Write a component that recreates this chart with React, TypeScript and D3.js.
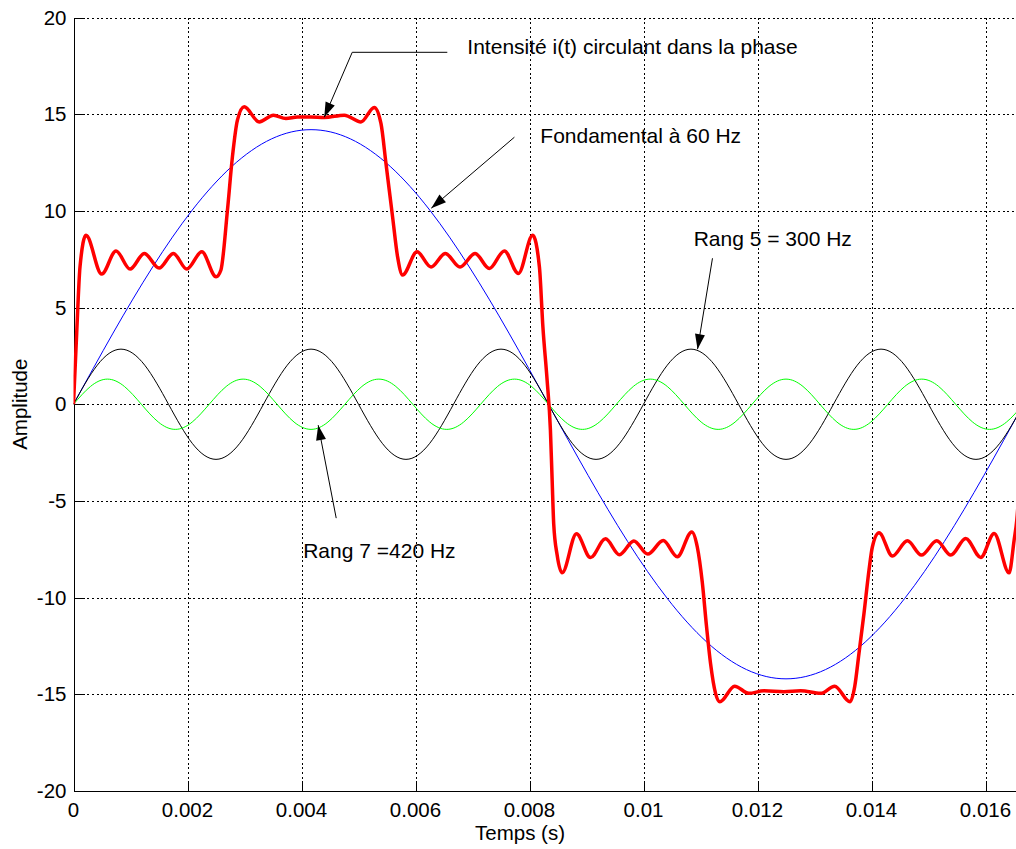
import React from 'react';
import * as d3 from 'd3';

// ---------- data (time in ms, amplitude) ----------
const xTicks = [0, 0.002, 0.004, 0.006, 0.008, 0.01, 0.012, 0.014, 0.016];
const xTickLabels = ['0', '0.002', '0.004', '0.006', '0.008', '0.01', '0.012', '0.014', '0.016'];
const yTicks = [-20, -15, -10, -5, 0, 5, 10, 15, 20];
const yTickLabels = ['-20', '-15', '-10', '-5', '0', '5', '10', '15', '20'];

const fundTime = [0, 0.694, 1.389, 2.083, 2.778, 3.472, 4.167, 4.861, 5.556, 6.25, 6.944, 7.639, 8.333,
  9.028, 9.722, 10.417, 11.111, 11.806, 12.5, 13.194, 13.889, 14.583, 15.278, 15.972, 16.667];
const fundAmp = [0, 3.68, 7.1, 10.04, 12.3, 13.72, 14.2, 13.72, 12.3, 10.04, 7.1, 3.68, 0,
  -3.68, -7.1, -10.04, -12.3, -13.72, -14.2, -13.72, -12.3, -10.04, -7.1, -3.68, 0];

const rang5Time = [0, 0.417, 0.833, 1.25, 1.667, 2.083, 2.5, 2.917, 3.333, 3.75, 4.167, 4.583, 5.0, 5.417,
  5.833, 6.25, 6.667, 7.083, 7.5, 7.917, 8.333, 8.75, 9.167, 9.583, 10.0, 10.417, 10.833, 11.25, 11.667,
  12.083, 12.5, 12.917, 13.333, 13.75, 14.167, 14.583, 15.0, 15.417, 15.833, 16.25, 16.667];
const rang5Amp = [0, 2.02, 2.85, 2.02, 0, -2.02, -2.85, -2.02, 0, 2.02, 2.85, 2.02, 0, -2.02, -2.85, -2.02,
  0, 2.02, 2.85, 2.02, 0, -2.02, -2.85, -2.02, 0, 2.02, 2.85, 2.02, 0, -2.02, -2.85, -2.02,
  0, 2.02, 2.85, 2.02, 0, -2.02, -2.85, -2.02, 0];

const rang7Time = [0, 0.298, 0.595, 0.893, 1.19, 1.488, 1.786, 2.083, 2.381, 2.679, 2.976, 3.274, 3.571,
  3.869, 4.167, 4.464, 4.762, 5.06, 5.357, 5.655, 5.952, 6.25, 6.548, 6.845, 7.143, 7.44, 7.738, 8.036,
  8.333, 8.631, 8.929, 9.226, 9.524, 9.821, 10.119, 10.417, 10.714, 11.012, 11.31, 11.607, 11.905, 12.202,
  12.5, 12.798, 13.095, 13.393, 13.69, 13.988, 14.286, 14.583, 14.881, 15.179, 15.476, 15.774, 16.071,
  16.369, 16.667];
const rang7Amp = [0, 0.92, 1.3, 0.92, 0, -0.92, -1.3, -0.92, 0, 0.92, 1.3, 0.92, 0, -0.92, -1.3, -0.92,
  0, 0.92, 1.3, 0.92, 0, -0.92, -1.3, -0.92, 0, 0.92, 1.3, 0.92, 0, -0.92, -1.3, -0.92,
  0, 0.92, 1.3, 0.92, 0, -0.92, -1.3, -0.92, 0, 0.92, 1.3, 0.92, 0, -0.92, -1.3, -0.92,
  0, 0.92, 1.3, 0.92, 0, -0.92, -1.3, -0.92, 0];

const currentTime = [0, 0.056, 0.114, 0.219, 0.495, 0.746, 0.992, 1.243, 1.501, 1.752, 1.988, 2.251, 2.502,
  2.585, 2.701, 2.788, 2.876, 2.994, 3.257, 3.508, 3.726, 3.93, 4.165, 4.4, 4.751, 5.043, 5.277, 5.394,
  5.482, 5.598, 5.686, 5.773, 6.026, 6.272, 6.523, 6.781, 7.045, 7.296, 7.559, 7.805, 8.056, 8.174, 8.235,
  8.309, 8.367, 8.397, 8.425, 8.485, 8.572, 8.824, 9.069, 9.333, 9.579, 9.83, 10.075, 10.346, 10.592,
  10.847, 10.943, 11.031, 11.106, 11.176, 11.264, 11.34, 11.598, 11.849, 12.112, 12.464, 12.757, 13.108,
  13.354, 13.622, 13.705, 13.78, 13.868, 13.956, 14.016, 14.132, 14.367, 14.63, 14.876, 15.145, 15.391,
  15.654, 15.917, 16.151, 16.414, 16.502, 16.549, 16.667];
const currentAmp = [0, 3.68, 7.1, 8.74, 6.73, 7.93, 6.99, 7.8, 7.04, 7.8, 6.99, 7.88, 6.59,
  6.93, 10.04, 12.79, 14.69, 15.38, 14.6, 14.95, 14.78, 14.86, 14.86, 14.83, 14.95, 14.6, 15.35, 14.52,
  12.45, 9.69, 7.62, 6.68, 7.88, 7.1, 7.8, 7.1, 7.8, 7.02, 7.93, 6.76, 8.74, 7.1, 4.0,
  1.25, -1.34, -3.9, -6.2, -7.8, -8.72, -6.7, -7.93, -6.96, -7.78, -7.07, -7.75, -7.05, -7.89,
  -6.6, -7.37, -9.2, -11.5, -13.4, -14.95, -15.39, -14.58, -14.95, -14.82, -14.87, -14.82, -14.95,
  -14.58, -15.39, -14.61, -12.89, -10.82, -8.58, -7.37, -6.65, -7.85, -7.06, -7.8, -7.06, -7.8,
  -6.94, -7.92, -6.68, -8.72, -7.03, -5.99, 0];

// annotations: label, text anchor point, arrow polyline (data coords: ms, amplitude)
const annotationLabels = ['Intensité i(t) circulant dans la phase', 'Fondamental à 60 Hz', 'Rang 5 = 300 Hz', 'Rang 7 =420 Hz'];
const annotationTextPos = [[6.91, 18.1], [8.19, 13.5], [10.88, 8.17], [4.03, -7.96]];
const annotationArrows = [
  [[6.558, 18.2], [4.89, 18.2], [4.399, 14.84]],
  [[7.735, 13.81], [6.277, 10.14]],
  [[11.21, 7.55], [10.948, 2.85]],
  [[4.609, -5.89], [4.293, -1.08]],
];

// ---------- layout ----------
const W = 1016;
const H = 849;
const left = 73.5;
const right = 1023.5;
const top = 17.5;
const bottom = 791;
const FONT = '"Liberation Sans", Arial, Helvetica, sans-serif';

export default function App() {
  const x = d3.scaleLinear().domain([0, 1 / 60]).range([left, right]);
  const y = d3.scaleLinear().domain([-20, 20]).range([bottom, top]);
  const xm = (ms: number) => x(ms / 1000);

  const mk = (ts: number[], vs: number[], curve: d3.CurveFactory) =>
    d3.line<number>().x((_, i) => xm(ts[i])).y((_, i) => y(vs[i])).curve(curve)(ts) || '';

  const fundPath = mk(fundTime, fundAmp, d3.curveNatural);
  const r5Path = mk(rang5Time, rang5Amp, d3.curveNatural);
  const r7Path = mk(rang7Time, rang7Amp, d3.curveNatural);
  const curPath = mk(currentTime, currentAmp, d3.curveMonotoneX);

  const tickLen = 9;
  const dash = '2,2.6';

  const arrowHead = (pts: number[][]) => {
    const n = pts.length;
    const [x1, y1] = [xm(pts[n - 2][0]), y(pts[n - 2][1])];
    const [x2, y2] = [xm(pts[n - 1][0]), y(pts[n - 1][1])];
    const a = Math.atan2(y2 - y1, x2 - x1);
    const L = 15, hw = 5;
    const bx = x2 - L * Math.cos(a), by = y2 - L * Math.sin(a);
    const px = -Math.sin(a), py = Math.cos(a);
    return `${x2},${y2} ${bx + hw * px},${by + hw * py} ${bx - hw * px},${by - hw * py}`;
  };

  return (
    <svg width={W} height={H} style={{ position: 'absolute', left: 0, top: 0, display: 'block', background: '#fff' }}
      fontFamily={FONT}>
      <rect x={0} y={0} width={W} height={H} fill="#fff" />
      <defs>
        <clipPath id="plotclip">
          <rect x={left} y={top - 2} width={right - left} height={bottom - top + 4} />
        </clipPath>
      </defs>
      {/* grid */}
      <g stroke="#000" strokeWidth={1} strokeDasharray={dash} shapeRendering="crispEdges">
        {xTicks.map((t) => (
          <line key={'gx' + t} x1={Math.round(x(t)) + 0.5} x2={Math.round(x(t)) + 0.5} y1={top} y2={bottom} />
        ))}
        {yTicks.map((v) => (
          <line key={'gy' + v} x1={left} x2={right} y1={Math.round(y(v)) + 0.5} y2={Math.round(y(v)) + 0.5} />
        ))}
      </g>
      {/* axes */}
      <g stroke="#000" strokeWidth={1} shapeRendering="crispEdges">
        <line x1={Math.round(left) + 0.5} x2={Math.round(left) + 0.5} y1={top} y2={bottom} />
        <line x1={left} x2={right} y1={Math.round(bottom) + 0.5} y2={Math.round(bottom) + 0.5} />
        {xTicks.map((t) => (
          <line key={'tx' + t} x1={Math.round(x(t)) + 0.5} x2={Math.round(x(t)) + 0.5} y1={bottom} y2={bottom - tickLen} />
        ))}
        {yTicks.map((v) => (
          <line key={'ty' + v} x1={left} x2={left + tickLen} y1={Math.round(y(v)) + 0.5} y2={Math.round(y(v)) + 0.5} />
        ))}
      </g>
      {/* tick labels */}
      <g fontSize={20.5} fill="#000">
        {xTicks.map((t, i) => (
          <text key={'lx' + t} x={x(t)} y={bottom + 26} textAnchor="middle">{xTickLabels[i]}</text>
        ))}
        {yTicks.map((v, i) => (
          <text key={'ly' + v} x={left - 7} y={y(v) + 7} textAnchor="end">{yTickLabels[i]}</text>
        ))}
      </g>
      <text x={520} y={840} fontSize={20.5} textAnchor="middle">Temps (s)</text>
      <text transform={`translate(27,${(top + bottom) / 2}) rotate(-90)`} fontSize={20.5} textAnchor="middle">Amplitude</text>
      {/* curves */}
      <g clipPath="url(#plotclip)" fill="none" strokeLinejoin="round">
        <path d={fundPath} stroke="#0000ff" strokeWidth={1} />
        <path d={r5Path} stroke="#000000" strokeWidth={1} />
        <path d={r7Path} stroke="#00ff00" strokeWidth={1} />
        <path d={curPath} stroke="#ff0000" strokeWidth={3.5} />
      </g>
      {/* annotations */}
      <g>
        {annotationArrows.map((pts, i) => (
          <g key={'ar' + i}>
            <polyline points={pts.map((p) => `${xm(p[0])},${y(p[1])}`).join(' ')} fill="none" stroke="#000" strokeWidth={1} />
            <polygon points={arrowHead(pts)} fill="#000" />
          </g>
        ))}
        {annotationLabels.map((lab, i) => (
          <text key={'an' + i} x={xm(annotationTextPos[i][0])} y={y(annotationTextPos[i][1])} fontSize={21} fill="#000">{lab}</text>
        ))}
      </g>
    </svg>
  );
}
